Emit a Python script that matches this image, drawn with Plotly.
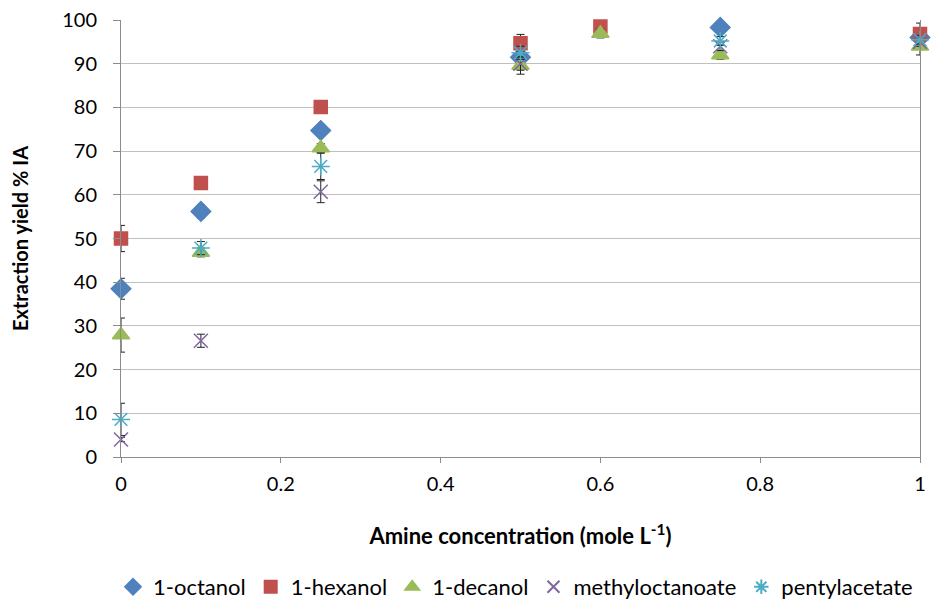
import plotly.graph_objects as go

# Amine concentration (mole/L) and extraction yield (% IA) per diluent
x_octanol = [0, 0.1, 0.25, 0.5, 0.75, 1]
y_octanol = [38.5, 56.2, 74.7, 91.5, 98.3, 96.0]
e_octanol = [2.4, 1.5, 1.0, 1.5, 1.0, 1.5]

x_hexanol = [0, 0.1, 0.25, 0.5, 0.6, 1]
y_hexanol = [50.0, 62.7, 80.1, 94.7, 98.5, 96.8]
e_hexanol = [3.0, 1.0, 1.0, 2.0, 1.0, 2.5]

x_decanol = [0, 0.1, 0.25, 0.5, 0.6, 0.75, 1]
y_decanol = [27.9, 46.8, 70.7, 89.6, 96.9, 92.0, 94.0]
e_decanol = [3.9, 1.0, 1.0, 2.0, 1.0, 1.0, 2.0]

x_methyl = [0, 0.1, 0.25, 0.5, 0.75, 1]
y_methyl = [4.0, 26.6, 60.7, 90.0, 94.0, 95.0]
e_methyl = [0.5, 1.5, 2.5, 1.5, 1.0, 1.0]

x_pentyl = [0, 0.1, 0.25, 0.5, 0.75, 1]
y_pentyl = [8.6, 47.8, 66.5, 92.5, 95.2, 95.5]
e_pentyl = [3.7, 1.5, 3.0, 1.5, 1.0, 1.0]

x_ticks = [0, 0.2, 0.4, 0.6, 0.8, 1]
x_tick_labels = ["0", "0.2", "0.4", "0.6", "0.8", "1"]
y_ticks = [0, 10, 20, 30, 40, 50, 60, 70, 80, 90, 100]

series = [
    ("1-octanol", x_octanol, y_octanol, e_octanol, "diamond", "#4F81BD", 15),
    ("1-hexanol", x_hexanol, y_hexanol, e_hexanol, "square", "#C0504D", 13),
    ("1-decanol", x_decanol, y_decanol, e_decanol, "triangle-up", "#9BBB59", 15),
    ("methyloctanoate", x_methyl, y_methyl, e_methyl, "x-thin-open", "#8064A2", 14),
    ("pentylacetate", x_pentyl, y_pentyl, e_pentyl, "asterisk-open", "#4BACC6", 15),
]

fig = go.Figure()
for name, xs, ys, es, sym, col, size in series:
    fig.add_trace(go.Scatter(
        x=xs, y=ys, mode="markers", name=name, cliponaxis=False,
        marker=dict(symbol=sym, color=col, size=size,
                    line=dict(color=col, width=1.5)),
        error_y=dict(type="data", array=es, visible=True,
                     color="#222222", thickness=1, width=4),
    ))

font_family = "Lato, 'Open Sans', sans-serif"
fig.update_layout(
    width=940, height=602,
    margin=dict(l=121, r=20, t=20, b=145, autoexpand=False),
    paper_bgcolor="white", plot_bgcolor="white",
    font=dict(family=font_family, size=20, color="#000000"),
    showlegend=True,
    legend=dict(orientation="h", x=-0.010, xanchor="left",
                y=-0.2975, yanchor="middle",
                font=dict(size=22), itemsizing="constant", itemwidth=30),
    xaxis=dict(
        range=[0, 1], tickvals=x_ticks, ticktext=x_tick_labels,
        showgrid=False,
        showline=True, linecolor="#8C8C8C", linewidth=1,
        ticks="outside", ticklen=5, tickcolor="#8C8C8C",
        ticklabelstandoff=4,
        zeroline=False, automargin=False,
        title=dict(text="<b>Amine concentration (mole L<sup>-1</sup>)</b>",
                   font=dict(size=22), standoff=34),
    ),
    yaxis=dict(
        range=[0, 100], tickvals=y_ticks,
        showgrid=True, gridcolor="#BFBFBF", gridwidth=1,
        showline=True, linecolor="#8C8C8C", linewidth=1, mirror=True,
        ticks="outside", ticklen=7, tickcolor="#8C8C8C",
        ticklabelstandoff=12,
        zeroline=False, automargin=False,
        title=dict(text="<b>Extraction yield % IA</b>",
                   font=dict(size=20), standoff=28),
    ),
)

fig.write_html("out.html")
